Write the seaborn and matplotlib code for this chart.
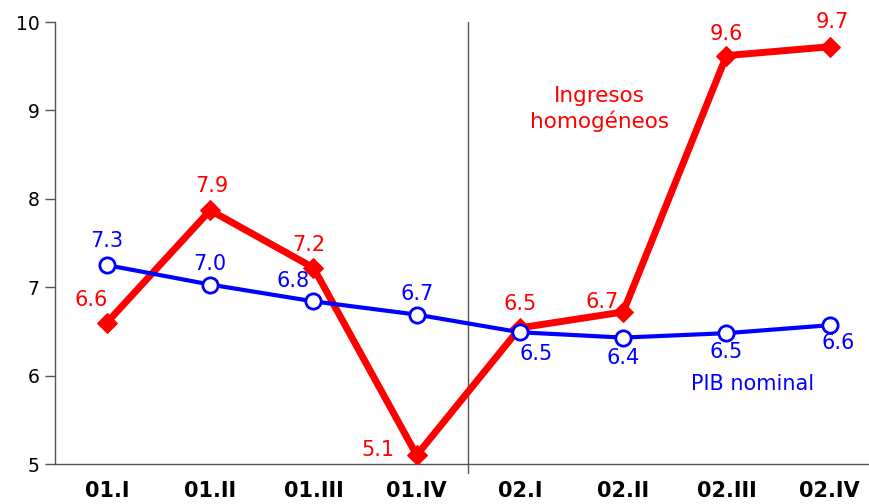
import pandas as pd
import seaborn as sns
import matplotlib.pyplot as plt

quarters = ['01.I', '01.II', '01.III', '01.IV', '02.I', '02.II', '02.III', '02.IV']
ingresos = [6.6, 7.87, 7.22, 5.1, 6.54, 6.72, 9.62, 9.72]
pib = [7.25, 7.03, 6.84, 6.69, 6.49, 6.43, 6.48, 6.57]
ingresos_labels = ['6.6', '7.9', '7.2', '5.1', '6.5', '6.7', '9.6', '9.7']
pib_labels = ['7.3', '7.0', '6.8', '6.7', '6.5', '6.4', '6.5', '6.6']

sns.set_style('white')
plt.rcParams['font.family'] = ['DejaVu Sans']

df = pd.DataFrame({'x': range(len(quarters)), 'ingresos': ingresos, 'pib': pib})

fig = plt.figure(figsize=(8.7, 5.04), dpi=100)
ax = fig.add_axes([55 / 870, 1 - 464 / 504, 1 - 55 / 870, (464 - 22) / 504])

sns.lineplot(data=df, x='x', y='ingresos', ax=ax, color='#ff0000', linewidth=5,
             marker='D', markersize=10, markeredgecolor='#ff0000', zorder=3)
sns.lineplot(data=df, x='x', y='pib', ax=ax, color='#0000ff', linewidth=3,
             marker='o', markersize=11, markerfacecolor='white',
             markeredgecolor='#0000ff', markeredgewidth=2, zorder=4)

ax.axvline(3.5, ymin=-0.02, ymax=1, color='#555555', linewidth=1, clip_on=False, zorder=1)

ax.set_xlim(-0.503, 7.39)
ax.set_ylim(5, 10)
ax.set_yticks([5, 6, 7, 8, 9, 10])
ax.set_xticks(range(len(quarters)))
ax.set_xticklabels(quarters, fontweight='bold', fontsize=15)
ax.tick_params(axis='y', labelsize=13.5, length=7, width=1, color='#555555',
               labelcolor='black', direction='out', left=True, pad=4)
ax.tick_params(axis='x', length=0, pad=12, labelcolor='black')
ax.set_xlabel('')
ax.set_ylabel('')

for s in ['top', 'right']:
    ax.spines[s].set_visible(False)
for s in ['left', 'bottom']:
    ax.spines[s].set_color('#555555')
    ax.spines[s].set_linewidth(1)

# label offsets in pixels
red_off = [(-16, 23), (2, 24), (-5, 23), (-39, 5), (0, 24), (-21, 10), (0, 22), (3, 25)]
blue_off = [(0, 24), (0, 21), (-20, 20), (0, 21), (16, -22), (0, -20), (0, -19), (8, -18)]

for i, (v, lab) in enumerate(zip(ingresos, ingresos_labels)):
    ax.annotate(lab, (i, v), xytext=red_off[i], textcoords='offset pixels',
                ha='center', va='center', color='#ff0000', fontsize=15)
for i, (v, lab) in enumerate(zip(pib, pib_labels)):
    ax.annotate(lab, (i, v), xytext=blue_off[i], textcoords='offset pixels',
                ha='center', va='center', color='#0000ff', fontsize=15)

ax.text(4.77, 9.02, 'Ingresos\nhomogéneos', color='#ff0000', fontsize=15.5,
        ha='center', va='center', linespacing=1.25)
ax.text(6.25, 5.9, 'PIB nominal', color='#0000ff', fontsize=15,
        ha='center', va='center')

fig.savefig('out.png', dpi=100)
